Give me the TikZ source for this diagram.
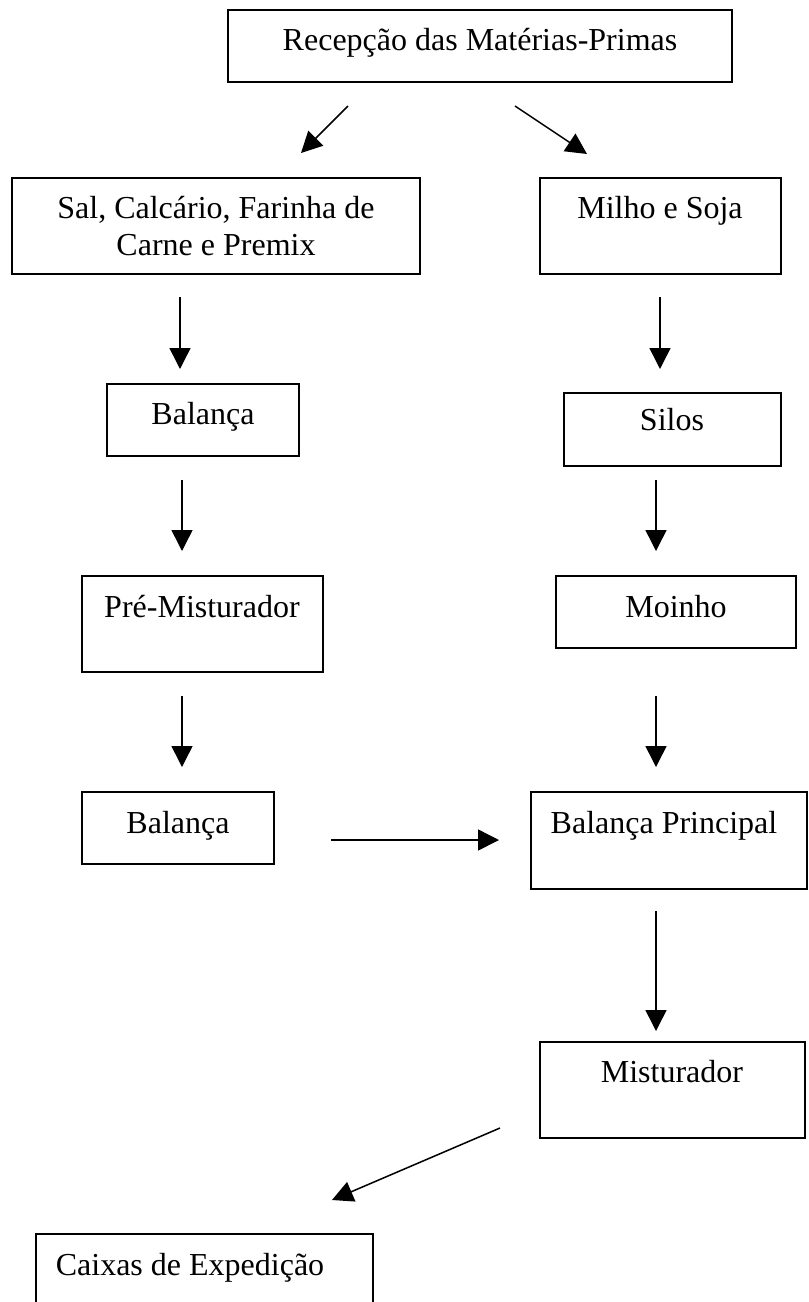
\documentclass[tikz,border=0pt]{standalone}
\usepackage{fontspec}
\setmainfont{Liberation Serif}
\usetikzlibrary{arrows.meta}
\begin{document}
\begin{tikzpicture}[x=1pt,y=-1pt,
  box/.style={draw, line width=1.9pt, inner sep=0pt, rectangle},
  lbl/.style={font=\fontsize{32}{37}\selectfont, inner sep=0pt, anchor=base},
  arr/.style={line width=1.5pt, -{Triangle[length=21pt,width=21pt]}}]
\useasboundingbox (0,0) rectangle (809,1302);
\fill[white] (0,0) rectangle (809,1302);
\clip (0,0) rectangle (809,1302);
% boxes
\node[box, minimum width=504pt, minimum height=72pt] (rec) at (480,46) {};
\node[box, minimum width=408pt, minimum height=96pt] (sal) at (216,226) {};
\node[box, minimum width=241pt, minimum height=96pt] (mil) at (660.5,226) {};
\node[box, minimum width=192pt, minimum height=72pt] (bal1) at (203,420) {};
\node[box, minimum width=217pt, minimum height=73pt] (sil) at (672.5,429.5) {};
\node[box, minimum width=241pt, minimum height=96pt] (pre) at (202.5,624) {};
\node[box, minimum width=240pt, minimum height=72pt] (moi) at (676,612) {};
\node[box, minimum width=192pt, minimum height=72pt] (bal2) at (178,828) {};
\node[box, minimum width=276pt, minimum height=97pt] (bp) at (669,840.5) {};
\node[box, minimum width=265pt, minimum height=96pt] (mis) at (672.5,1090) {};
\node[box, minimum width=337pt, minimum height=120pt] (cx) at (204.5,1294) {};
% labels
\node[lbl] (trec) at (480,50) {Recepção das Matérias-Primas};
\node[lbl] (tsal1) at (216,218) {Sal, Calcário, Farinha de};
\node[lbl] (tsal2) at (216,255) {Carne e Premix};
\node[lbl] (tmil) at (660,218) {Milho e Soja};
\node[lbl] (tbal1) at (203,424) {Balança};
\node[lbl] (tsil) at (672,430) {Silos};
\node[lbl] (tpre) at (202,617) {Pré-Misturador};
\node[lbl] (tmoi) at (676,617) {Moinho};
\node[lbl] (tbal2) at (178,833) {Balança};
\node[lbl] (tbp) at (664,833) {Balança Principal};
\node[lbl] (tmis) at (672,1082) {Misturador};
\node[lbl] (tcx) at (190,1275) {Caixas de Expedição};
% arrow end points
\coordinate (a1s) at (348,106); \coordinate (a1e) at (301,153);
\coordinate (a2s) at (515,106); \coordinate (a2e) at (587,154);
\coordinate (a3s) at (180,297); \coordinate (a3e) at (180,369);
\coordinate (a4s) at (660,297); \coordinate (a4e) at (660,369);
\coordinate (a5s) at (182,480); \coordinate (a5e) at (182,551);
\coordinate (a6s) at (656,480); \coordinate (a6e) at (656,551);
\coordinate (a7s) at (182,696); \coordinate (a7e) at (182,767);
\coordinate (a8s) at (656,696); \coordinate (a8e) at (656,767);
\coordinate (a9s) at (331,840); \coordinate (a9e) at (499,840);
\coordinate (a10s) at (656,911); \coordinate (a10e) at (656,1031);
\coordinate (a11s) at (500,1128); \coordinate (a11e) at (332,1200);
% arrows
\draw[arr] (a1s) -- (a1e);
\draw[arr] (a2s) -- (a2e);
\draw[arr] (a3s) -- (a3e);
\draw[arr] (a4s) -- (a4e);
\draw[arr] (a5s) -- (a5e);
\draw[arr] (a6s) -- (a6e);
\draw[arr] (a7s) -- (a7e);
\draw[arr] (a8s) -- (a8e);
\draw[arr] (a9s) -- (a9e);
\draw[arr] (a10s) -- (a10e);
\draw[arr] (a11s) -- (a11e);
\end{tikzpicture}
\end{document}
